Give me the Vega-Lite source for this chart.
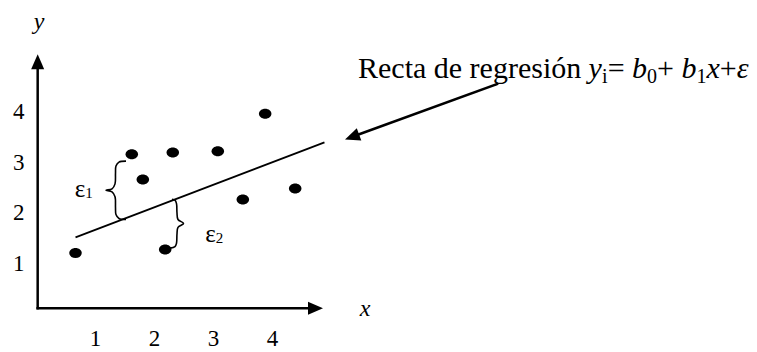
{
  "$schema": "https://vega.github.io/schema/vega-lite/v6.json",
  "width": 757,
  "height": 352,
  "autosize": {"type": "fit", "contains": "padding"},
  "padding": 0,
  "background": "white",
  "config": {"view": {"stroke": null}},
  "datasets": {
    "segments": [
      {"part": "x-axis", "x": 0.02, "y": 0.1326, "x2": 4.6, "y2": 0.1326},
      {"part": "y-axis", "x": 0.02, "y": 0.1326, "x2": 0.02, "y2": 4.92},
      {"part": "pointer", "x": 7.805, "y": 4.551, "x2": 5.466, "y2": 3.561}
    ],
    "fit": [
      {"x": 0.661, "y": 1.53, "x2": 4.881, "y2": 3.402}
    ],
    "observations": [
      {"x": 0.661, "y": 1.218},
      {"x": 1.615, "y": 3.168},
      {"x": 1.802, "y": 2.667},
      {"x": 2.31, "y": 3.201},
      {"x": 3.073, "y": 3.226},
      {"x": 3.876, "y": 3.967},
      {"x": 3.497, "y": 2.277},
      {"x": 4.385, "y": 2.491},
      {"x": 2.181, "y": 1.29}
    ],
    "braces": [
      {"brace": "e1", "i": 0, "x": 1.517, "y": 3.031},
      {"brace": "e1", "i": 1, "x": 1.398, "y": 3.012},
      {"brace": "e1", "i": 2, "x": 1.347, "y": 2.934},
      {"brace": "e1", "i": 3, "x": 1.339, "y": 2.788},
      {"brace": "e1", "i": 4, "x": 1.331, "y": 2.583},
      {"brace": "e1", "i": 5, "x": 1.28, "y": 2.485},
      {"brace": "e1", "i": 6, "x": 1.178, "y": 2.456},
      {"brace": "e1", "i": 7, "x": 1.28, "y": 2.427},
      {"brace": "e1", "i": 8, "x": 1.331, "y": 2.329},
      {"brace": "e1", "i": 9, "x": 1.339, "y": 2.115},
      {"brace": "e1", "i": 10, "x": 1.347, "y": 1.979},
      {"brace": "e1", "i": 11, "x": 1.398, "y": 1.901},
      {"brace": "e1", "i": 12, "x": 1.517, "y": 1.881},
      {"brace": "e2", "i": 0, "x": 2.297, "y": 2.281},
      {"brace": "e2", "i": 1, "x": 2.347, "y": 2.261},
      {"brace": "e2", "i": 2, "x": 2.373, "y": 2.193},
      {"brace": "e2", "i": 3, "x": 2.381, "y": 2.018},
      {"brace": "e2", "i": 4, "x": 2.398, "y": 1.881},
      {"brace": "e2", "i": 5, "x": 2.492, "y": 1.803},
      {"brace": "e2", "i": 6, "x": 2.398, "y": 1.725},
      {"brace": "e2", "i": 7, "x": 2.381, "y": 1.589},
      {"brace": "e2", "i": 8, "x": 2.373, "y": 1.413},
      {"brace": "e2", "i": 9, "x": 2.347, "y": 1.345},
      {"brace": "e2", "i": 10, "x": 2.263, "y": 1.316}
    ],
    "tickLabels": [
      {"x": 1, "y": -0.478, "t": "1"},
      {"x": 2, "y": -0.478, "t": "2"},
      {"x": 3, "y": -0.478, "t": "3"},
      {"x": 4, "y": -0.478, "t": "4"},
      {"x": -0.3, "y": 1, "t": "1"},
      {"x": -0.3, "y": 2, "t": "2"},
      {"x": -0.3, "y": 3, "t": "3"},
      {"x": -0.3, "y": 4, "t": "4"}
    ],
    "axisTitles": [
      {"x": 0.042, "y": 5.78, "t": "y"},
      {"x": 5.568, "y": 0.107, "t": "x"}
    ],
    "epsilons": [
      {"x": 0.737, "y": 2.485, "t": "ε"},
      {"x": 2.949, "y": 1.598, "t": "ε"}
    ],
    "epsilonSubs": [
      {"x": 0.89, "y": 2.407, "t": "1"},
      {"x": 3.102, "y": 1.52, "t": "2"}
    ],
    "headingPlain": [
      {"x": 5.449, "y": 4.669, "t": "Recta de regresión"},
      {"x": 9.681, "y": 4.669, "t": "="},
      {"x": 10.519, "y": 4.669, "t": "+"},
      {"x": 11.581, "y": 4.669, "t": "+"}
    ],
    "headingItalic": [
      {"x": 9.356, "y": 4.669, "t": "y"},
      {"x": 10.095, "y": 4.669, "t": "b"},
      {"x": 10.932, "y": 4.669, "t": "b"},
      {"x": 11.356, "y": 4.669, "t": "x"},
      {"x": 11.868, "y": 4.669, "t": "ε"}
    ],
    "headingSubs": [
      {"x": 9.585, "y": 4.571, "t": "i"},
      {"x": 10.349, "y": 4.571, "t": "0"},
      {"x": 11.186, "y": 4.571, "t": "1"}
    ]
  },
  "encoding": {
    "x": {"field": "x", "type": "quantitative", "scale": {"domain": [-0.6186, 12.2119], "nice": false, "zero": false}, "axis": null},
    "y": {"field": "y", "type": "quantitative", "scale": {"domain": [-0.653, 6.2086], "nice": false, "zero": false}, "axis": null}
  },
  "layer": [
    {
      "data": {"name": "segments"},
      "mark": {"type": "rule", "color": "black", "strokeWidth": 2.5, "strokeCap": "square"},
      "encoding": {"x2": {"field": "x2"}, "y2": {"field": "y2"}}
    },
    {
      "data": {"name": "fit"},
      "mark": {"type": "rule", "color": "black", "strokeWidth": 1.8},
      "encoding": {"x2": {"field": "x2"}, "y2": {"field": "y2"}}
    },
    {
      "data": {"values": [{"x": 0.02, "y": 4.99}]},
      "mark": {"type": "point", "shape": "M1,0L-1,-0.87L-1,0.87Z", "size": 225, "angle": 270, "filled": true, "color": "black", "opacity": 1}
    },
    {
      "data": {"values": [{"x": 4.729, "y": 0.1326}]},
      "mark": {"type": "point", "shape": "M1,0L-1,-0.87L-1,0.87Z", "size": 225, "angle": 0, "filled": true, "color": "black", "opacity": 1}
    },
    {
      "data": {"values": [{"x": 5.348, "y": 3.51}]},
      "mark": {"type": "point", "shape": "M1,0L-1,-0.87L-1,0.87Z", "size": 225, "angle": 159.75, "filled": true, "color": "black", "opacity": 1}
    },
    {
      "data": {"name": "observations"},
      "mark": {"type": "point", "shape": "M-1,0A1,0.8,0,1,0,1,0A1,0.8,0,1,0,-1,0Z", "size": 156, "filled": true, "color": "black", "opacity": 1}
    },
    {
      "data": {"name": "braces"},
      "mark": {"type": "line", "interpolate": "catmull-rom", "color": "black", "strokeWidth": 1.6},
      "encoding": {"detail": {"field": "brace"}, "order": {"field": "i", "type": "quantitative"}}
    },
    {
      "data": {"name": "tickLabels"},
      "mark": {"type": "text", "font": "Liberation Serif", "fontSize": 23, "color": "black", "align": "center", "baseline": "middle"},
      "encoding": {"text": {"field": "t"}}
    },
    {
      "data": {"name": "axisTitles"},
      "mark": {"type": "text", "font": "Liberation Serif", "fontSize": 24, "fontStyle": "italic", "color": "black", "align": "center", "baseline": "middle"},
      "encoding": {"text": {"field": "t"}}
    },
    {
      "data": {"name": "epsilons"},
      "mark": {"type": "text", "font": "Liberation Serif", "fontSize": 25, "color": "black", "align": "center", "baseline": "middle"},
      "encoding": {"text": {"field": "t"}}
    },
    {
      "data": {"name": "epsilonSubs"},
      "mark": {"type": "text", "font": "Liberation Serif", "fontSize": 15, "color": "black", "align": "center", "baseline": "middle"},
      "encoding": {"text": {"field": "t"}}
    },
    {
      "data": {"name": "headingPlain"},
      "mark": {"type": "text", "font": "Liberation Serif", "fontSize": 30, "color": "black", "align": "left", "baseline": "alphabetic"},
      "encoding": {"text": {"field": "t"}}
    },
    {
      "data": {"name": "headingItalic"},
      "mark": {"type": "text", "font": "Liberation Serif", "fontSize": 30, "fontStyle": "italic", "color": "black", "align": "left", "baseline": "alphabetic"},
      "encoding": {"text": {"field": "t"}}
    },
    {
      "data": {"name": "headingSubs"},
      "mark": {"type": "text", "font": "Liberation Serif", "fontSize": 20, "color": "black", "align": "left", "baseline": "alphabetic"},
      "encoding": {"text": {"field": "t"}}
    }
  ]
}
